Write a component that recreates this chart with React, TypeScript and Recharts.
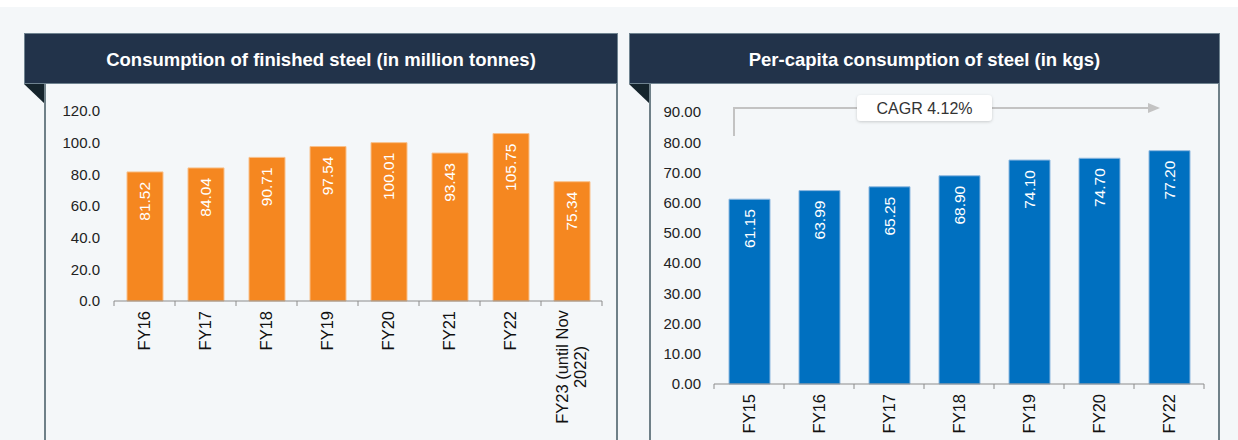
import { Bar, BarChart, LabelList, XAxis, YAxis } from 'recharts';

const steelYears = ['FY16', 'FY17', 'FY18', 'FY19', 'FY20', 'FY21', 'FY22', 'FY23 (until Nov 2022)'];
const steelConsumption = [81.52, 84.04, 90.71, 97.54, 100.01, 93.43, 105.75, 75.34];
const steelTicks = [0, 20, 40, 60, 80, 100, 120];

const perCapitaYears = ['FY15', 'FY16', 'FY17', 'FY18', 'FY19', 'FY20', 'FY22'];
const perCapitaConsumption = [61.15, 63.99, 65.25, 68.9, 74.1, 74.7, 77.2];
const perCapitaTicks = [0, 10, 20, 30, 40, 50, 60, 70, 80, 90];

const cagrLabel = 'CAGR 4.12%';

const FONT = '"Liberation Sans", Arial, sans-serif';
const AXIS_GREY = '#8c8c8c';
const TICK_SIZE = 5;
const TICK_MARGIN = 5;

// split long category names into two lines like the source
const wrap = (label: string) => {
  if (label.length <= 15) return [label];
  const words = label.split(' ');
  return [words.slice(0, -1).join(' '), words[words.length - 1]];
};

const BandTick = (props: any) => {
  const { x, y, payload, index, visibleTicksCount, width } = props;
  const half = payload.offset || width / visibleTicksCount / 2;
  const axisY = y - TICK_SIZE - TICK_MARGIN;
  const lines = wrap(String(payload.value));
  const tickLine = (tx: number) => (
    <line x1={tx} x2={tx} y1={axisY} y2={axisY + TICK_SIZE} stroke={AXIS_GREY} strokeWidth={1} />
  );
  const textProps = { fontSize: 16.5, fill: '#111', fontFamily: FONT, dy: '0.35em' };
  return (
    <g>
      {tickLine(x - half)}
      {index === visibleTicksCount - 1 && tickLine(x + half)}
      {lines.length === 1 ? (
        <text transform={`translate(${x},${y}) rotate(-90)`} textAnchor="end" {...textProps}>
          {lines[0]}
        </text>
      ) : (
        lines.map((line, i) => (
          <text
            key={line}
            transform={`translate(${x + (i - (lines.length - 1) / 2) * 18},${y + 56}) rotate(-90)`}
            textAnchor="middle"
            {...textProps}
          >
            {line}
          </text>
        ))
      )}
    </g>
  );
};

const BarValue = (props: any) => {
  const { x, y, width, value } = props;
  const cx = x + width / 2;
  const cy = y + 10;
  return (
    <text
      transform={`translate(${cx},${cy}) rotate(-90)`}
      dy="0.35em"
      textAnchor="end"
      fontSize={15.5}
      fill="#fff"
      fontFamily={FONT}
    >
      {Number(value).toFixed(2)}
    </text>
  );
};

const Panel = ({ left, width, title }: { left: number; width: number; title: string }) => (
  <>
    <div
      style={{
        position: 'absolute',
        left,
        top: 33,
        width,
        height: 51,
        background: '#22334a',
        boxShadow: 'inset 0 0 0 1px #6f8390',
        color: '#fff',
        fontFamily: FONT,
        fontWeight: 'bold',
        fontSize: 18.5,
        display: 'flex',
        alignItems: 'center',
        justifyContent: 'center',
        paddingTop: 2,
        boxSizing: 'border-box',
      }}
    >
      {title}
    </div>
    <svg style={{ position: 'absolute', left, top: 84 }} width={22} height={22}>
      <polygon points="0,0 21,0 21,20" fill="#15242c" />
    </svg>
    <div style={{ position: 'absolute', left: left + 20, top: 84, width: 2, height: 356, background: '#6f8088' }} />
    <div style={{ position: 'absolute', left: left + width - 2, top: 84, width: 2, height: 356, background: '#6f8088' }} />
  </>
);

const steelData = steelYears.map((year, i) => ({ year, value: steelConsumption[i] }));
const perCapitaData = perCapitaYears.map((year, i) => ({ year, value: perCapitaConsumption[i] }));

const yTick = { fontSize: 15, fill: '#222', fontFamily: FONT };

export default function App() {
  return (
    <div style={{ position: 'relative', width: 1238, height: 440, background: '#f4f7f9', overflow: 'hidden' }}>
      <style>{'body{margin:0}'}</style>
      <div style={{ position: 'absolute', left: 0, top: 0, width: 1238, height: 7, background: '#fff' }} />

      <Panel left={24} width={594} title="Consumption of finished steel (in million tonnes)" />
      <Panel left={629} width={591} title="Per-capita consumption of steel (in kgs)" />

      <div style={{ position: 'absolute', left: 44, top: 85 }}>
        <BarChart width={574} height={355} data={steelData} margin={{ top: 26, right: 16, left: 0, bottom: 0 }}>
          <XAxis
            dataKey="year"
            height={139}
            interval={0}
            tickLine={false}
            axisLine={{ stroke: AXIS_GREY }}
            tickSize={TICK_SIZE}
            tickMargin={TICK_MARGIN}
            tick={<BandTick />}
          />
          <YAxis
            width={70}
            domain={[0, 120]}
            ticks={steelTicks}
            axisLine={false}
            tickLine={false}
            tickSize={6}
            tickMargin={8}
            tick={yTick}
            tickFormatter={(v) => Number(v).toFixed(1)}
          />
          <Bar dataKey="value" fill="#f58720" stroke="#f9c08a" strokeWidth={1} barSize={36} isAnimationActive={false}>
            <LabelList dataKey="value" content={<BarValue />} />
          </Bar>
        </BarChart>
      </div>

      <div style={{ position: 'absolute', left: 648, top: 85 }}>
        <BarChart width={572} height={355} data={perCapitaData} margin={{ top: 27, right: 16, left: 0, bottom: 0 }}>
          <XAxis
            dataKey="year"
            height={56}
            interval={0}
            tickLine={false}
            axisLine={{ stroke: AXIS_GREY }}
            tickSize={TICK_SIZE}
            tickMargin={TICK_MARGIN}
            tick={<BandTick />}
          />
          <YAxis
            width={66}
            domain={[0, 90]}
            ticks={perCapitaTicks}
            axisLine={false}
            tickLine={false}
            tickSize={6}
            tickMargin={7}
            tick={yTick}
            tickFormatter={(v) => Number(v).toFixed(2)}
          />
          <Bar dataKey="value" fill="#0070c0" stroke="#8fb9e0" strokeWidth={1} barSize={41} isAnimationActive={false}>
            <LabelList dataKey="value" content={<BarValue />} />
          </Bar>
        </BarChart>
      </div>

      <svg style={{ position: 'absolute', left: 0, top: 0, pointerEvents: 'none' }} width={1238} height={440}>
        <defs>
          <filter id="boxShadow" x="-20%" y="-40%" width="140%" height="180%">
            <feDropShadow dx="0" dy="1" stdDeviation="1.5" floodColor="#000" floodOpacity="0.18" />
          </filter>
        </defs>
        <polyline points="734,136 734,108 1150,108" fill="none" stroke="#c3c3c3" strokeWidth={2} />
        <polygon points="1148,103 1160,108 1148,113" fill="#c3c3c3" />
        <rect x={857} y={95} width={135} height={26} rx={4} fill="#fff" filter="url(#boxShadow)" />
        <text x={924.5} y={108} dy="0.35em" textAnchor="middle" fontSize={16} fill="#333" fontFamily={FONT}>
          {cagrLabel}
        </text>
      </svg>
    </div>
  );
}
